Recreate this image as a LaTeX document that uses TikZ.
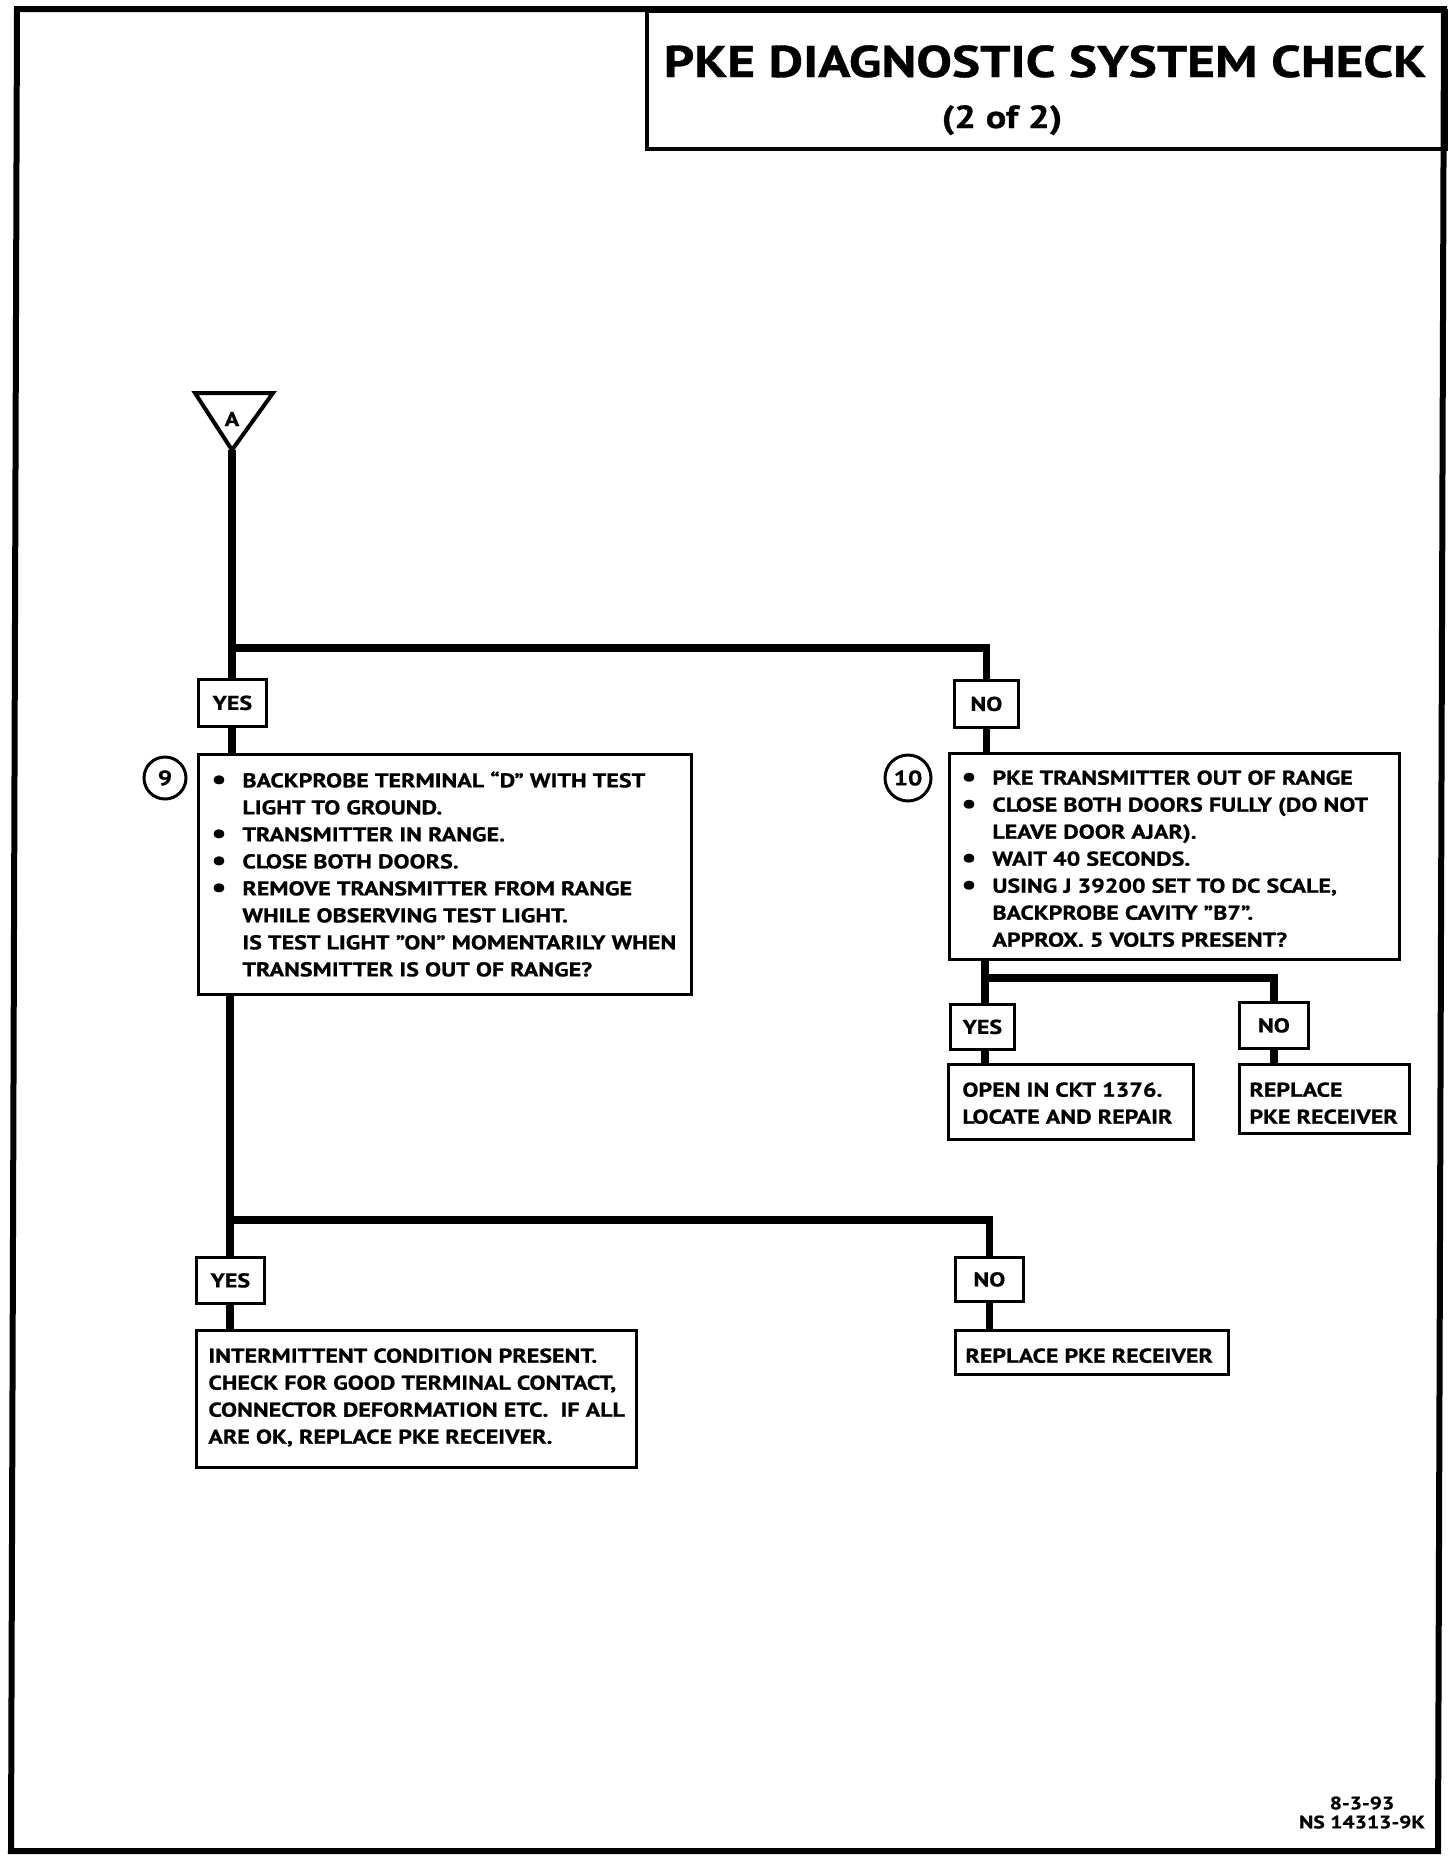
\documentclass[tikz,border=0pt]{standalone}
\usepackage{fontspec}
\setmainfont{PT Sans}[FakeStretch=1.2, BoldFeatures={FakeBold=0.8}]
\usetikzlibrary{backgrounds}
\newcommand\bul{\makebox[15.5pt][l]{\raisebox{-0.6pt}{\fontsize{14}{14}\selectfont •}}}
\newcommand\ind{\hspace*{15.5pt}}
\begin{document}
\begin{tikzpicture}[x=0.5pt,y=-0.5pt,
  conn/.style={line width=3.9pt},
  pbox/.style={draw, line width=1.4pt, fill=white, rectangle, inner sep=0pt, anchor=north west},
  yn/.style={draw, line width=1.4pt, fill=white, rectangle, inner sep=0pt, anchor=north west, font=\fontsize{10}{12}\selectfont\bfseries},
  txt/.style={inner sep=0pt, anchor=north west, align=left, font=\fontsize{10}{13.5}\selectfont\bfseries},
  num/.style={draw, circle, line width=1.5pt, inner sep=0pt, fill=white, font=\fontsize{10.5}{12}\selectfont\bfseries},
]
\useasboundingbox (0,0) rectangle (1456,1864);
% page frame
\draw[line width=3pt, line join=miter] (17,9) -- (1444,9) -- (1438,1851) -- (11,1851) -- cycle;
% title box
\node[draw, line width=2pt, rectangle, inner sep=0pt, anchor=north west, minimum width=399.5pt, minimum height=69pt] (titlebox) at (645,9) {};
\node[font=\fontsize{22.2}{24}\selectfont\bfseries, anchor=base] (title) at (1045,77) {PKE DIAGNOSTIC SYSTEM CHECK};
\node[font=\fontsize{16}{18}\selectfont\bfseries, anchor=base] (pageno) at (1002,128) {(2 of 2)};

% junction coordinates
\coordinate (triA) at (232,450);
\coordinate (j1) at (232,648);
\coordinate (j2) at (985,978);
\coordinate (j3) at (230,1220);

% boxes
\node[yn, minimum width=34pt, minimum height=23.5pt] (yes1) at (197,678) {YES};
\node[yn, minimum width=32pt, minimum height=23.5pt] (no1) at (953,679) {NO};
\node[pbox, minimum width=246.5pt, minimum height=120pt] (b9) at (197,753) {};
\node[pbox, minimum width=225pt, minimum height=103pt] (b10) at (948,752) {};
\node[yn, minimum width=32pt, minimum height=22.5pt] (yes2) at (949,1003) {YES};
\node[yn, minimum width=34.5pt, minimum height=23pt] (no2) at (1238,1001) {NO};
\node[pbox, minimum width=122.5pt, minimum height=37.5pt] (b11) at (947,1063) {};
\node[pbox, minimum width=85pt, minimum height=34.5pt] (b12) at (1238,1063) {};
\node[yn, minimum width=34pt, minimum height=23pt] (yes3) at (195,1256) {YES};
\node[yn, minimum width=34pt, minimum height=22pt] (no3) at (954,1256) {NO};
\node[pbox, minimum width=220pt, minimum height=68.5pt] (b13) at (195,1329) {};
\node[pbox, minimum width=136.5pt, minimum height=22pt] (b14) at (954,1329) {};

% connectors behind the boxes
\begin{pgfonlayer}{background}
\draw[conn] (triA) -- (triA |- yes1.north);
\draw[conn] (j1) -| (no1.north);
\draw[conn] (triA |- yes1.south) -- (triA |- b9.north);
\draw[conn] (no1.south) -- (no1.south |- b10.north);
\draw[conn] (j3 |- b9.south) -- (j3 |- yes3.north);
\draw[conn] (j3) -| (no3.north);
\draw[conn] (j3 |- yes3.south) -- (j3 |- b13.north);
\draw[conn] (no3.south) -- (no3.south |- b14.north);
\draw[conn] (j2 |- b10.south) -- (j2 |- yes2.north);
\draw[conn] (j2) -| (no2.north);
\draw[conn] (j2 |- yes2.south) -- (j2 |- b11.north);
\draw[conn] (no2.south) -- (no2.south |- b12.north);
\end{pgfonlayer}

% triangle
\draw[line width=2pt, line join=miter, fill=white] (195,393) -- (273,393) -- (triA) -- cycle;
\node[font=\fontsize{10}{10}\selectfont\bfseries] (labA) at (232,419) {A};

% step numbers
\node[num, minimum size=21pt] (c9) at (165,778) {9};
\node[num, minimum size=23pt] (c10) at (908,778) {10};

% texts
\node[txt] (t9) at (211,771) {\bul BACKPROBE TERMINAL “D” WITH TEST\\
\ind LIGHT TO GROUND.\\
\bul TRANSMITTER IN RANGE.\\
\bul CLOSE BOTH DOORS.\\
\bul REMOVE TRANSMITTER FROM RANGE\\
\ind WHILE OBSERVING TEST LIGHT.\\
\ind IS TEST LIGHT ”ON” MOMENTARILY WHEN\\
\ind TRANSMITTER IS OUT OF RANGE?};
\node[txt] (t10) at (961,770) {\bul PKE TRANSMITTER OUT OF RANGE\\
\bul CLOSE BOTH DOORS FULLY (DO NOT\\
\ind LEAVE DOOR AJAR).\\
\bul WAIT 40 SECONDS.\\
\bul USING J 39200 SET TO DC SCALE,\\
\ind BACKPROBE CAVITY ”B7”.\\
\ind APPROX. 5 VOLTS PRESENT?};
\node[txt] (t11) at (962,1082) {OPEN IN CKT 1376.\\LOCATE AND REPAIR};
\node[txt] (t12) at (1249,1082) {REPLACE\\PKE RECEIVER};
\node[txt] (t13) at (208,1348) {INTERMITTENT CONDITION PRESENT.\\
CHECK FOR GOOD TERMINAL CONTACT,\\
CONNECTOR DEFORMATION ETC.\ \ IF ALL\\
ARE OK, REPLACE PKE RECEIVER.};
\node[txt] (t14) at (965,1348) {REPLACE PKE RECEIVER};

% footer
\node[font=\fontsize{9}{9.5}\selectfont\bfseries, align=center, anchor=south, inner sep=0pt] (foot) at (1362,1829) {8-3-93\\NS 14313-9K};
\end{tikzpicture}
\end{document}
